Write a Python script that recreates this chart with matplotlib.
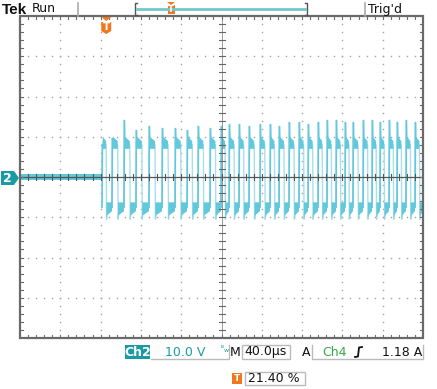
import matplotlib
matplotlib.use('Agg')
import matplotlib.pyplot as plt
from matplotlib.patches import Rectangle, Polygon
from matplotlib.lines import Line2D

# ---------------- data ----------------
time_per_div_us = 40.0
volts_per_div = 10.0
n_xdiv = 10
n_ydiv = 8
trigger_pos_pct = 21.40
ch2_label = "Ch2"
ch2_scale = "10.0 V"
timebase = "40.0\u00b5s"
trig_src = "Ch4"
trig_level = "1.18 A"

burst_start_us = 80.5
rise_us = [81.4, 91.3, 103.2, 115.1, 128.0, 141.0, 153.9, 165.8, 176.7, 188.6,
           199.5, 207.5, 217.4, 227.3, 238.2, 248.2, 257.1, 267.0, 276.9, 285.9,
           295.8, 304.7, 313.7, 322.6, 330.5, 340.5, 349.4, 357.3, 366.3, 374.2,
           383.1, 392.1]
fall_us = [85.5, 97.0, 109.0, 121.0, 134.0, 147.0, 159.5, 171.0, 182.0, 194.0,
           203.5, 212.5, 222.0, 232.5, 243.0, 252.5, 262.0, 272.0, 281.5, 290.5,
           300.0, 309.0, 318.0, 326.5, 335.5, 345.0, 353.5, 361.5, 370.5, 378.5,
           387.5, 396.5]
peak_V = [8.0, 9.5, 14.0, 11.5, 12.5, 12.0, 12.0, 11.5, 12.5, 12.0,
          12.5, 13.0, 13.0, 12.5, 13.0, 13.0, 12.5, 13.5, 13.5, 13.0,
          13.5, 14.0, 14.0, 13.5, 13.5, 14.0, 14.0, 13.5, 14.0, 13.5,
          14.0, 13.5]
high_V = 8.0
low_V = -7.5
trough_V = -10.5
baseline_noise_V = 0.8

# ---------------- figure ----------------
W, H = 437, 389
fig = plt.figure(figsize=(W / 100, H / 100), dpi=100)
fig.patch.set_facecolor('white')

def fx(x):
    return x / W

def fy(y):
    return 1 - y / H

L, R, T, B = 20, 423, 16, 338
ax = fig.add_axes([fx(L), fy(B), (R - L) / W, (B - T) / H])
xmax = time_per_div_us * n_xdiv
ymax = volts_per_div * n_ydiv / 2
ax.set_xlim(0, xmax)
ax.set_ylim(-ymax, ymax)
ax.axis('off')

grid_c = '#a0a0a0'
frame_c = '#6a6a6a'
wave_c = '#62c8db'
edge_c = '#aadfe9'
teal = '#1a9ba3'
orange = '#f0781e'

# grid dots
xd = time_per_div_us
yd = volts_per_div
for i in range(1, n_xdiv):
    if i == n_xdiv // 2:
        continue
    ys = [-ymax + k * yd / 5 for k in range(1, n_ydiv * 5)]
    ax.plot([i * xd] * len(ys), ys, ls='none', marker='s', ms=1.0, color=grid_c, mew=0, zorder=1)
for j in range(1, n_ydiv):
    if j == n_ydiv // 2:
        continue
    xs = [k * xd / 5 for k in range(1, n_xdiv * 5)]
    ax.plot(xs, [-ymax + j * yd] * len(xs), ls='none', marker='s', ms=1.0, color=grid_c, mew=0, zorder=1)

# baseline before burst
ax.fill_between([0, burst_start_us], -baseline_noise_V, baseline_noise_V, color=wave_c, lw=0, zorder=3)

# burst waveform
xs, ys = [burst_start_us], [0.0]
for i, (tr, tf) in enumerate(zip(rise_us, fall_us)):
    xs += [tr, tr + 0.4, tr + 1.5, tf, tf + 0.4, tf + 1.5]
    ys += [low_V if i else 0.0, peak_V[i], high_V, high_V, trough_V, low_V]
    nxt = rise_us[i + 1] if i + 1 < len(rise_us) else xmax
    xs += [nxt]
    ys += [low_V]
ax.plot(xs, ys, color=edge_c, lw=1.0, zorder=3)

for i, (tr, tf) in enumerate(zip(rise_us, fall_us)):
    ax.add_patch(Polygon([(tr + 0.3, peak_V[i]), (tr + 1.0, high_V + 2.0), (tf, high_V + 0.9),
                          (tf, high_V - 1.0), (tr + 0.3, high_V - 1.0)],
                         closed=True, color=wave_c, lw=0, zorder=4))
    ax.plot([tr, tr + 0.4], [low_V, peak_V[i]], color=wave_c, lw=1.2, zorder=4)
    nxt = rise_us[i + 1] if i + 1 < len(rise_us) else xmax
    ax.add_patch(Polygon([(tf + 0.3, trough_V), (tf + 1.0, low_V - 2.0), (nxt, low_V - 1.0),
                          (nxt, low_V + 1.2), (tf + 0.3, low_V + 1.2)],
                         closed=True, color=wave_c, lw=0, zorder=4))

# center cross with ticks
ax.plot([0, xmax], [0, 0], color='#555555', lw=0.9, zorder=5)
ax.plot([xmax / 2, xmax / 2], [-ymax, ymax], color='#888888', lw=0.6, zorder=5)
tx = 3.0 / 40.3 * time_per_div_us
ty = 3.0 / 40.25 * volts_per_div
for k in range(1, n_xdiv * 5):
    x = k * xd / 5
    ax.plot([x, x], [-ty, ty], color='#555555', lw=0.8, zorder=5)
    ax.plot([x, x], [-ymax, -ymax + ty], color=frame_c, lw=0.8, zorder=5)
    ax.plot([x, x], [ymax, ymax - ty], color=frame_c, lw=0.8, zorder=5)
for k in range(1, n_ydiv * 5):
    y = -ymax + k * yd / 5
    ax.plot([xmax / 2 - tx, xmax / 2 + tx], [y, y], color='#666666', lw=0.8, zorder=5)
    ax.plot([0, tx], [y, y], color=frame_c, lw=0.8, zorder=5)
    ax.plot([xmax, xmax - tx], [y, y], color=frame_c, lw=0.8, zorder=5)

ax.add_patch(Rectangle((0, -ymax), xmax, 2 * ymax, fill=False, ec=frame_c, lw=1.6, zorder=6, clip_on=False))

# ---------------- overlays in pixel coords ----------------
def ftext(x, y, s, **kw):
    fig.text(fx(x), fy(y), s, **kw)

def fline(xs, ys, **kw):
    fig.add_artist(Line2D([fx(v) for v in xs], [fy(v) for v in ys], **kw))

def fpoly(pts, **kw):
    fig.add_artist(Polygon([(fx(a), fy(b)) for a, b in pts], closed=True, transform=fig.transFigure, **kw))

def frect(x0, y0, x1, y1, **kw):
    fig.add_artist(Rectangle((fx(x0), fy(y1)), (x1 - x0) / W, (y1 - y0) / H, transform=fig.transFigure, **kw))

# top bar
ftext(2, 9.5, "Tek", fontsize=11, fontweight='bold', va='center', ha='left', color='#111111',
      family='Liberation Sans')
ftext(32, 9, "Run", fontsize=9, va='center', ha='left', color='#111111')
ftext(368, 9, "Trig'd", fontsize=9, va='center', ha='left', color='#111111')
fline([78, 78], [3, 16], color='#aaaaaa', lw=1.2)
fline([365, 365], [3, 16], color='#aaaaaa', lw=1.2)
fline([137, 135, 135, 137], [3, 3, 15, 15], color='#555555', lw=1.0)
fline([305, 307, 307, 305], [3, 3, 15, 15], color='#555555', lw=1.0)
fline([137, 305], [8.5, 8.5], color='#72c8c8', lw=2.0)
fpoly([(167, 2), (175, 2), (171, 5)], color=orange, lw=0)
frect(167.5, 5, 174.5, 14, color=orange, lw=0)
ftext(171, 9.8, "T", fontsize=6, fontweight='bold', color='white', ha='center', va='center')

# trigger position marker on graticule
tpx = L + (R - L) * trigger_pos_pct / 100
fpoly([(tpx - 5, 17), (tpx + 5, 17), (tpx, 21)], color=orange, lw=0)
fpoly([(tpx - 5, 22), (tpx + 5, 22), (tpx + 5, 31), (tpx, 34), (tpx - 5, 31)], color=orange, lw=0)
ftext(tpx, 27.5, "T", fontsize=7.5, fontweight='bold', color='white', ha='center', va='center')

# channel 2 ground marker
fpoly([(1, 171), (14, 171), (19, 178), (14, 185), (1, 185)], color=teal, lw=0)
ftext(7.5, 178.5, "2", fontsize=9, fontweight='bold', color='white', ha='center', va='center')

# bottom status line
yb = 352
frect(125, 345, 150, 359, color=teal, lw=0)
ftext(137.5, yb, ch2_label, fontsize=9, fontweight='bold', color='white', ha='center', va='center')
fline([151, 229, 229], [359, 359, 345], color='#bbbbbb', lw=1.0)
ftext(165, yb, ch2_scale, fontsize=9, color=teal, ha='left', va='center')
ftext(221, 349, "\u1d2e", fontsize=5, color=teal, ha='left', va='center')
ftext(224, 351, "w", fontsize=4.5, color=teal, ha='left', va='center')
ftext(230, yb, "M", fontsize=9, color='#111111', ha='left', va='center')
frect(242, 345, 290, 359, fill=False, ec='#bbbbbb', lw=1.0)
ftext(244, yb, timebase, fontsize=9, color='#111111', ha='left', va='center')
ftext(302, yb, "A", fontsize=9, color='#111111', ha='left', va='center')
fline([312, 312, 423, 423], [345, 359, 359, 345], color='#bbbbbb', lw=1.0)
ftext(322, yb, trig_src, fontsize=9, color='#3aa64a', ha='left', va='center')
fline([355, 358, 358.5, 359, 362], [357, 356.5, 352, 347.5, 347], color='#111111', lw=1.3)
ftext(422, yb, trig_level, fontsize=9, color='#111111', ha='right', va='center')

# trigger position readout
frect(232, 373, 242, 384, color=orange, lw=0)
ftext(237, 378.8, "T", fontsize=6.5, fontweight='bold', color='white', ha='center', va='center')
frect(245, 372, 305, 385, fill=False, ec='#bbbbbb', lw=1.0)
ftext(248, 378.5, f"{trigger_pos_pct:.2f} %", fontsize=9, color='#111111', ha='left', va='center')

fig.savefig('out.png', dpi=100, facecolor='white')
